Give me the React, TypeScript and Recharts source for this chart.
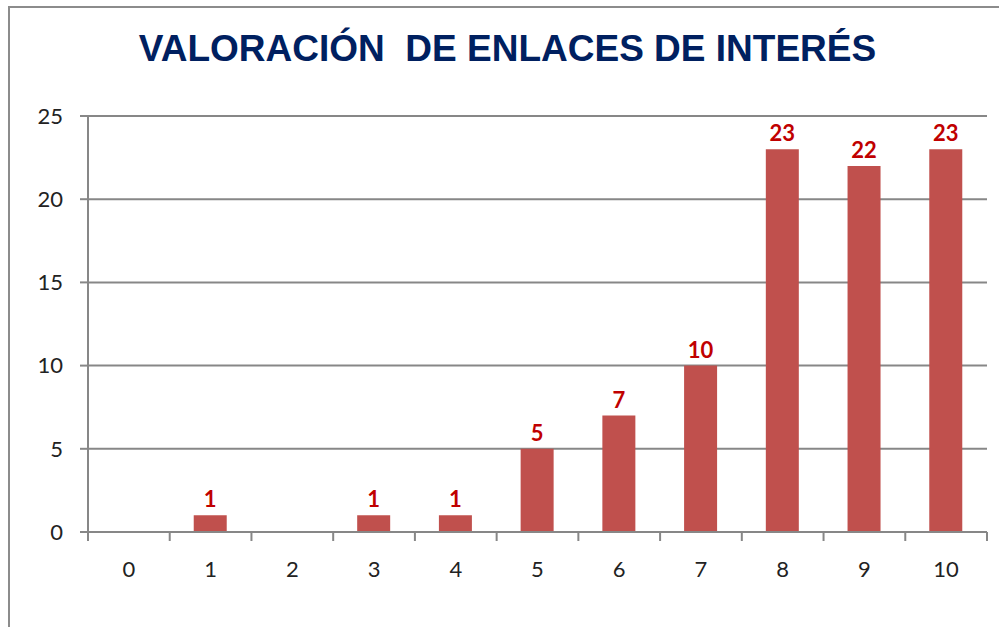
import { Bar, BarChart, CartesianGrid, LabelList, XAxis, YAxis } from "recharts";

const categories = ["0", "1", "2", "3", "4", "5", "6", "7", "8", "9", "10"];
const counts = [0, 1, 0, 1, 1, 5, 7, 10, 23, 22, 23];
const yTicks = [0, 5, 10, 15, 20, 25];

const data = categories.map((c, i) => ({ cat: c, value: counts[i] }));

const AXIS = "#878787";
const BAR = "#C0504D";
const LABEL = "#C00000";
const TICK_FONT = "Lato, 'Open Sans', sans-serif";

function CategoryTick(props: any) {
  const { x, y, payload, index } = props;
  const half = payload?.offset ?? 899 / 11 / 2;
  const last = index === categories.length - 1;
  return (
    <g>
      <line x1={x - half} x2={x - half} y1={y} y2={y + 9} stroke={AXIS} strokeWidth={2} />
      {last && <line x1={x + half} x2={x + half} y1={y} y2={y + 9} stroke={AXIS} strokeWidth={2} />}
      <text x={x} y={y + 45} textAnchor="middle" fill="#222" fontSize={22} fontFamily={TICK_FONT}>
        {payload.value}
      </text>
    </g>
  );
}

export default function App() {
  return (
    <div style={{ position: "absolute", left: 0, top: 0, width: 999, height: 627, background: "#fff", overflow: "hidden" }}>
      <div
        style={{
          position: "absolute",
          left: 8,
          top: 6,
          width: 1100,
          height: 700,
          border: "2px solid #8c8c8c",
          boxSizing: "border-box",
        }}
      />
      <div
        style={{
          position: "absolute",
          left: 0,
          top: 27,
          width: 1015,
          textAlign: "center",
          fontFamily: "'Liberation Sans', Arial, sans-serif",
          fontWeight: 700,
          fontSize: 37,
          color: "#002060",
          whiteSpace: "pre",
          lineHeight: "44px",
        }}
      >
        {"VALORACIÓN  DE ENLACES DE INTERÉS"}
      </div>
      <div style={{ position: "absolute", left: 0, top: 0 }}>
        <BarChart width={999} height={627} data={data} margin={{ top: 116, right: 12, bottom: 55, left: 28 }} barSize={33}>
          <CartesianGrid vertical={false} stroke={AXIS} strokeWidth={2} />
          <XAxis
            dataKey="cat"
            height={40}
            tickSize={0}
            tickMargin={0}
            tickLine={false}
            axisLine={{ stroke: AXIS, strokeWidth: 2 }}
            tick={<CategoryTick />}
            interval={0}
          />
          <YAxis
            domain={[0, 25]}
            ticks={yTicks}
            width={60}
            tickSize={8}
            tickMargin={17}
            tickLine={{ stroke: AXIS, strokeWidth: 2 }}
            axisLine={{ stroke: AXIS, strokeWidth: 2 }}
            tick={{ fill: "#222", fontSize: 22, fontFamily: TICK_FONT }}
          />
          <Bar dataKey="value" fill={BAR} isAnimationActive={false}>
            <LabelList
              dataKey="value"
              position="top"
              offset={8}
              formatter={(v: any) => (v === 0 ? "" : v)}
              fill={LABEL}
              fontSize={22}
              fontWeight={700}
              fontFamily={TICK_FONT}
            />
          </Bar>
        </BarChart>
      </div>
    </div>
  );
}
